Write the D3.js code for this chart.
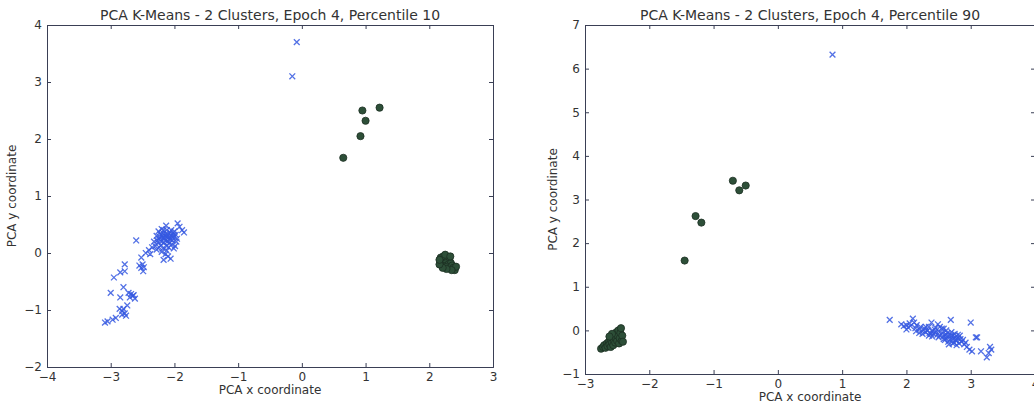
<!DOCTYPE html>
<html>
<head>
<meta charset="utf-8">
<script src="https://cdn.jsdelivr.net/npm/d3@7"></script>
<style>
  body { margin: 0; background: #fff; }
  svg { display: block; }
  text { font-family: "DejaVu Sans", sans-serif; fill: #333; }
  .axis path, .axis line { stroke: #3a3f55; }
</style>
</head>
<body>
<div id="chart"></div>
<script>
// left figure: percentile 10
var blueLeft = [
  [-0.08,3.70],[-0.15,3.10],
  [-1.95,0.52],[-1.88,0.40],[-1.85,0.36],[-1.92,0.46],[-2.13,0.48],[-2.20,0.42],[-2.25,0.38],[-2.28,0.30],
  [-2.22,0.33],[-2.18,0.35],[-2.15,0.30],[-2.12,0.28],[-2.10,0.32],[-2.08,0.25],[-2.05,0.30],[-2.02,0.35],
  [-2.00,0.28],[-1.98,0.32],[-1.96,0.25],[-2.03,0.22],[-2.07,0.36],[-2.14,0.22],[-2.18,0.26],[-2.24,0.24],
  [-2.26,0.18],[-2.21,0.14],[-2.16,0.18],[-2.11,0.20],[-2.04,0.15],[-1.99,0.12],[-2.01,0.08],[-2.09,0.10],
  [-2.30,0.12],[-2.35,0.10],[-2.20,0.02],[-2.14,-0.02],[-2.10,-0.06],[-2.17,-0.12],[-2.06,-0.10],[-2.40,0.05],
  [-2.45,0.00],[-2.38,-0.02],[-2.60,0.22],[-2.52,-0.08],[-2.50,-0.20],[-2.52,-0.26],[-2.49,-0.32],[-2.78,-0.20],
  [-2.78,-0.32],[-2.85,-0.34],[-2.95,-0.43],[-2.80,-0.60],[-2.72,-0.70],[-2.68,-0.72],[-2.65,-0.75],[-2.62,-0.80],
  [-3.00,-0.70],[-2.85,-0.78],[-2.86,-0.98],[-2.82,-1.02],[-2.78,-1.06],[-2.74,-0.92],[-2.76,-1.10],[-2.92,-1.14],
  [-2.97,-1.17],[-3.05,-1.20],[-3.09,-1.22],
  [-2.23,0.28],[-2.19,0.30],[-2.16,0.26],[-2.13,0.34],[-2.09,0.28],[-2.06,0.24],[-2.03,0.28],[-2.01,0.32],
  [-2.12,0.40],[-2.17,0.40],[-2.05,0.40],[-2.27,0.22],[-2.20,0.20],[-2.08,0.18],[-1.97,0.20],[-2.00,0.38],
  [-2.24,0.10],[-2.18,0.08],[-2.12,0.12],[-2.12,0.04],[-2.28,0.06],[-2.32,0.20],[-2.55,-0.22],[-2.48,-0.25],
  [-2.64,-0.74],[-2.70,-0.78],[-2.82,-1.08],[-2.80,-0.98]
];
var greenLeft = [
  [0.65,1.67],[0.92,2.05],[0.95,2.50],[1.00,2.32],[1.22,2.55],
  [2.18,-0.08],[2.22,-0.06],[2.26,-0.08],[2.30,-0.10],[2.20,-0.12],[2.24,-0.12],[2.28,-0.14],[2.32,-0.14],
  [2.18,-0.16],[2.22,-0.18],[2.26,-0.18],[2.30,-0.20],[2.34,-0.18],[2.20,-0.22],[2.24,-0.24],[2.28,-0.24],
  [2.32,-0.26],[2.36,-0.22],[2.38,-0.26],[2.40,-0.30],[2.42,-0.24],[2.35,-0.30],[2.27,-0.28],[2.21,-0.26],
  [2.16,-0.20],[2.16,-0.12],[2.25,-0.03],[2.33,-0.06]
];
// right figure: percentile 90
var blueRight = [
  [0.85,6.32],
  [1.74,0.24],[1.92,0.14],[1.96,0.10],[2.00,0.12],[2.03,0.06],[2.06,0.10],[2.10,0.27],[2.12,0.18],[2.14,0.05],
  [2.16,0.12],[2.20,0.02],[2.22,0.08],[2.25,-0.02],[2.28,0.04],[2.30,-0.04],[2.33,0.00],[2.36,-0.06],[2.39,0.18],
  [2.40,-0.02],[2.42,-0.08],[2.45,-0.04],[2.48,-0.10],[2.49,0.14],[2.50,-0.02],[2.52,-0.12],[2.55,-0.06],
  [2.57,-0.14],[2.60,-0.10],[2.62,-0.18],[2.64,-0.06],[2.66,-0.14],[2.68,-0.22],[2.69,0.24],[2.70,-0.12],
  [2.72,-0.20],[2.74,-0.28],[2.76,-0.16],[2.78,-0.24],[2.80,-0.10],[2.82,-0.30],[2.84,-0.20],[2.86,-0.26],
  [2.90,-0.32],[2.94,-0.38],[2.98,-0.44],[3.00,0.18],[3.02,-0.48],[3.08,-0.16],[3.10,-0.16],[3.16,-0.48],
  [3.25,-0.62],[3.30,-0.38],[3.32,-0.44],[3.28,-0.52],[2.58,0.04],[2.35,0.08],[2.20,-0.06],
  [2.45,0.06],[2.50,-0.16],[2.55,0.04],[2.60,-0.22],[2.62,0.00],[2.65,-0.26],[2.70,-0.04],[2.72,-0.30],
  [2.75,-0.08],[2.78,-0.34],[2.80,-0.18],[2.83,-0.12],[2.40,-0.14],[2.35,-0.12],[2.30,0.08],[2.25,-0.08],
  [2.15,-0.02],[2.05,0.16],[2.00,0.02],[2.88,-0.22],[2.92,-0.28],[2.66,-0.32],[2.58,-0.20],[2.52,0.08],
  [2.44,0.02],[2.38,-0.08],[2.62,-0.10],[2.76,-0.22],[2.72,-0.12]
];
var greenRight = [
  [-1.45,1.60],[-1.28,2.62],[-1.19,2.47],[-0.70,3.43],[-0.60,3.21],[-0.50,3.32],
  [-2.75,-0.42],[-2.72,-0.38],[-2.70,-0.34],[-2.68,-0.40],[-2.66,-0.30],[-2.65,-0.36],[-2.63,-0.26],
  [-2.62,-0.32],[-2.60,-0.22],[-2.60,-0.38],[-2.58,-0.28],[-2.57,-0.16],[-2.56,-0.34],[-2.55,-0.22],
  [-2.54,-0.10],[-2.53,-0.28],[-2.52,-0.16],[-2.51,-0.04],[-2.50,-0.24],[-2.49,-0.12],[-2.48,0.00],
  [-2.47,-0.30],[-2.46,-0.18],[-2.45,-0.06],[-2.44,0.05],[-2.43,-0.24],[-2.42,-0.12],[-2.41,-0.26],
  [-2.58,-0.08],[-2.62,-0.14]
];
var titles = ["PCA K-Means - 2 Clusters, Epoch 4, Percentile 10",
              "PCA K-Means - 2 Clusters, Epoch 4, Percentile 90"];
var xTicksLeft = [-4,-3,-2,-1,0,1,2,3];
var yTicksLeft = [-2,-1,0,1,2,3,4];
var xTicksRight = [-3,-2,-1,0,1,2,3,4];
var yTicksRight = [-1,0,1,2,3,4,5,6,7];

var svg = d3.select("#chart").append("svg")
  .attr("width", 1034)
  .attr("height", 406);

var panels = [
  {title: titles[0], blue: blueLeft, green: greenLeft, xd: [-4,3], yd: [-2,4],
   xt: xTicksLeft, yt: yTicksLeft, left: 47, right: 493, top: 25, bottom: 367,
   xlabY: 394, ylabX: 16},
  {title: titles[1], blue: blueRight, green: greenRight, xd: [-3,4], yd: [-1,7],
   xt: xTicksRight, yt: yTicksRight, left: 585, right: 1035, top: 25, bottom: 374,
   xlabY: 401, ylabX: 557}
];

panels.forEach(function(p) {
  var x = d3.scaleLinear().domain(p.xd).range([p.left, p.right]);
  var y = d3.scaleLinear().domain(p.yd).range([p.bottom, p.top]);
  var g = svg.append("g");

  // markers
  g.selectAll(".cross").data(p.blue).enter().append("path")
    .attr("class", "cross")
    .attr("d", function(d) {
      var cx = x(d[0]), cy = y(d[1]), s = 2.9;
      return "M" + (cx - s) + "," + (cy - s) + "L" + (cx + s) + "," + (cy + s) +
             "M" + (cx - s) + "," + (cy + s) + "L" + (cx + s) + "," + (cy - s);
    })
    .attr("stroke", "#3558e0")
    .attr("stroke-opacity", 0.85)
    .attr("stroke-width", 1.3)
    .attr("fill", "none");

  g.selectAll(".dot").data(p.green).enter().append("circle")
    .attr("class", "dot")
    .attr("cx", function(d) { return x(d[0]); })
    .attr("cy", function(d) { return y(d[1]); })
    .attr("r", 3.6)
    .attr("fill", "#2d4f38")
    .attr("stroke", "#1c2e22")
    .attr("stroke-width", 0.8);

  // axes, ticks pointing inward on all sides
  g.append("g").attr("class", "axis")
    .attr("transform", "translate(0," + p.bottom + ")")
    .call(d3.axisBottom(x).tickValues(p.xt).tickSize(-4).tickPadding(5).tickFormat(d3.format("d")))
    .call(function(a) { a.selectAll("text").style("font-size", "12px").attr("fill", "#333"); });
  g.append("g").attr("class", "axis")
    .attr("transform", "translate(0," + p.top + ")")
    .call(d3.axisTop(x).tickValues(p.xt).tickSize(-4).tickFormat(""));
  g.append("g").attr("class", "axis")
    .attr("transform", "translate(" + p.left + ",0)")
    .call(d3.axisLeft(y).tickValues(p.yt).tickSize(-4).tickPadding(5).tickFormat(d3.format("d")))
    .call(function(a) { a.selectAll("text").style("font-size", "12px").attr("fill", "#333"); });
  g.append("g").attr("class", "axis")
    .attr("transform", "translate(" + p.right + ",0)")
    .call(d3.axisRight(y).tickValues(p.yt).tickSize(-4).tickFormat(""));

  g.append("text")
    .attr("x", (p.left + p.right) / 2)
    .attr("y", 20)
    .attr("text-anchor", "middle")
    .style("font-size", "14px")
    .text(p.title);

  g.append("text")
    .attr("x", (p.left + p.right) / 2)
    .attr("y", p.xlabY)
    .attr("text-anchor", "middle")
    .style("font-size", "12px")
    .text("PCA x coordinate");

  g.append("text")
    .attr("transform", "translate(" + p.ylabX + "," + (p.top + p.bottom) / 2 + ") rotate(-90)")
    .attr("text-anchor", "middle")
    .style("font-size", "12px")
    .text("PCA y coordinate");
});
</script>
</body>
</html>
